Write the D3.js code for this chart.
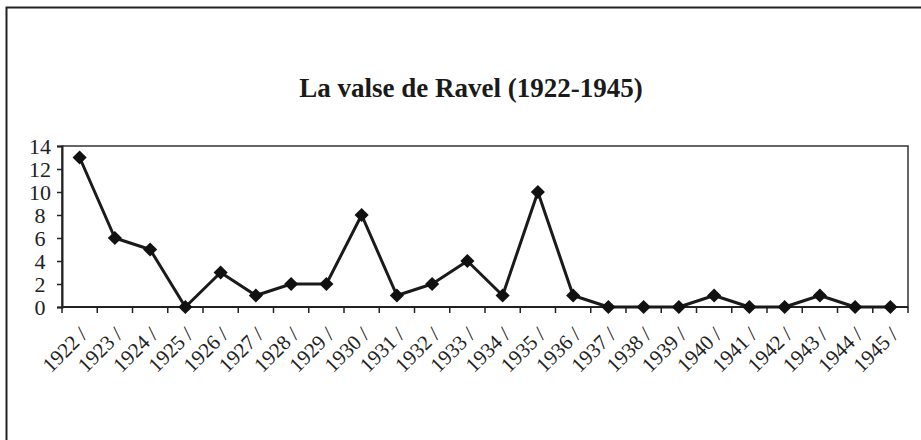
<!DOCTYPE html>
<html>
<head>
<meta charset="utf-8">
<script src="https://cdn.jsdelivr.net/npm/d3@7"></script>
<style>
  body { margin: 0; background: #fff; }
  svg { display: block; }
</style>
</head>
<body>
<div id="chart"></div>
<script>
// La valse de Ravel — line chart with diamond markers
const YEARS = ["1922","1923","1924","1925","1926","1927","1928","1929","1930","1931","1932","1933",
               "1934","1935","1936","1937","1938","1939","1940","1941","1942","1943","1944","1945"];
const COUNTS = [13, 6, 5, 0, 3, 1, 2, 2, 8, 1, 2, 4, 1, 10, 1, 0, 0, 0, 1, 0, 0, 1, 0, 0];
const Y_TICKS = [0, 2, 4, 6, 8, 10, 12, 14];
const TITLE = "La valse de Ravel (1922-1945)";

const totalW = 921, totalH = 440;
const margin = { top: 146, right: 13, bottom: 133, left: 62 };
const W = totalW - margin.left - margin.right, H = totalH - margin.top - margin.bottom;
const FONT = "'Liberation Serif', 'DejaVu Serif', serif";

const root = d3.select("#chart").append("svg").attr("width", totalW).attr("height", totalH);

// outer frame (only top & left visible)
root.append("rect").attr("x", 6.5).attr("y", 7.5).attr("width", 1000).attr("height", 1000)
    .attr("fill", "none").attr("stroke", "#222").attr("stroke-width", 2);

root.append("text").attr("x", 471).attr("y", 97).attr("text-anchor", "middle")
    .style("font-family", FONT).style("font-weight", "bold").style("font-size", "27px")
    .style("fill", "#1a1a1a").text(TITLE);

const svg = root.append("g").attr("transform", `translate(${margin.left},${margin.top})`);

const x = d3.scaleBand().domain(YEARS).range([0, W]);
const y = d3.scaleLinear().domain([0, 14]).range([H, 0]);

// plot frame
svg.append("rect").attr("width", W).attr("height", H)
    .attr("fill", "none").attr("stroke", "#333").attr("stroke-width", 1.5);

// y axis
const yAx = svg.append("g").call(d3.axisLeft(y).tickValues(Y_TICKS).tickSize(5).tickPadding(3));
yAx.select(".domain").attr("stroke", "#222").attr("stroke-width", 2);
yAx.selectAll("line").attr("stroke", "#222").attr("stroke-width", 1.5);
yAx.selectAll("text").style("font-family", FONT).style("font-size", "22px").style("fill", "#222")
    .attr("text-anchor", "middle").attr("x", -22).attr("dy", "0.34em");

// x axis: ticks at category boundaries
const xAx = svg.append("g").attr("transform", `translate(0,${H})`);
xAx.append("line").attr("x1", 0).attr("x2", W).attr("stroke", "#222").attr("stroke-width", 2);
xAx.selectAll(".bt").data(YEARS.concat(["end"])).enter().append("line")
    .attr("x1", (d, i) => i < YEARS.length ? x(d) : W)
    .attr("x2", (d, i) => i < YEARS.length ? x(d) : W)
    .attr("y1", 0).attr("y2", 6).attr("stroke", "#222").attr("stroke-width", 1.5);
xAx.selectAll(".lbl").data(YEARS).enter().append("text")
    .attr("transform", d => `translate(${x(d) + x.bandwidth() / 2 + 9},${29}) rotate(-45)`)
    .attr("text-anchor", "end")
    .style("font-family", FONT).style("font-size", "21px").style("fill", "#222")
    .text(d => d + " /");

// line + diamonds
const line = d3.line().x((d, i) => x(YEARS[i]) + x.bandwidth() / 2).y(d => y(d));
svg.append("path").datum(COUNTS).attr("d", line)
    .attr("fill", "none").attr("stroke", "#1a1a1a").attr("stroke-width", 3).attr("stroke-linejoin", "round");

svg.selectAll(".pt").data(COUNTS).enter().append("path")
    .attr("d", d3.symbol().type(d3.symbolSquare).size(100))
    .attr("transform", (d, i) => `translate(${x(YEARS[i]) + x.bandwidth() / 2},${y(d)}) rotate(45)`)
    .attr("fill", "#111");
</script>
</body>
</html>
